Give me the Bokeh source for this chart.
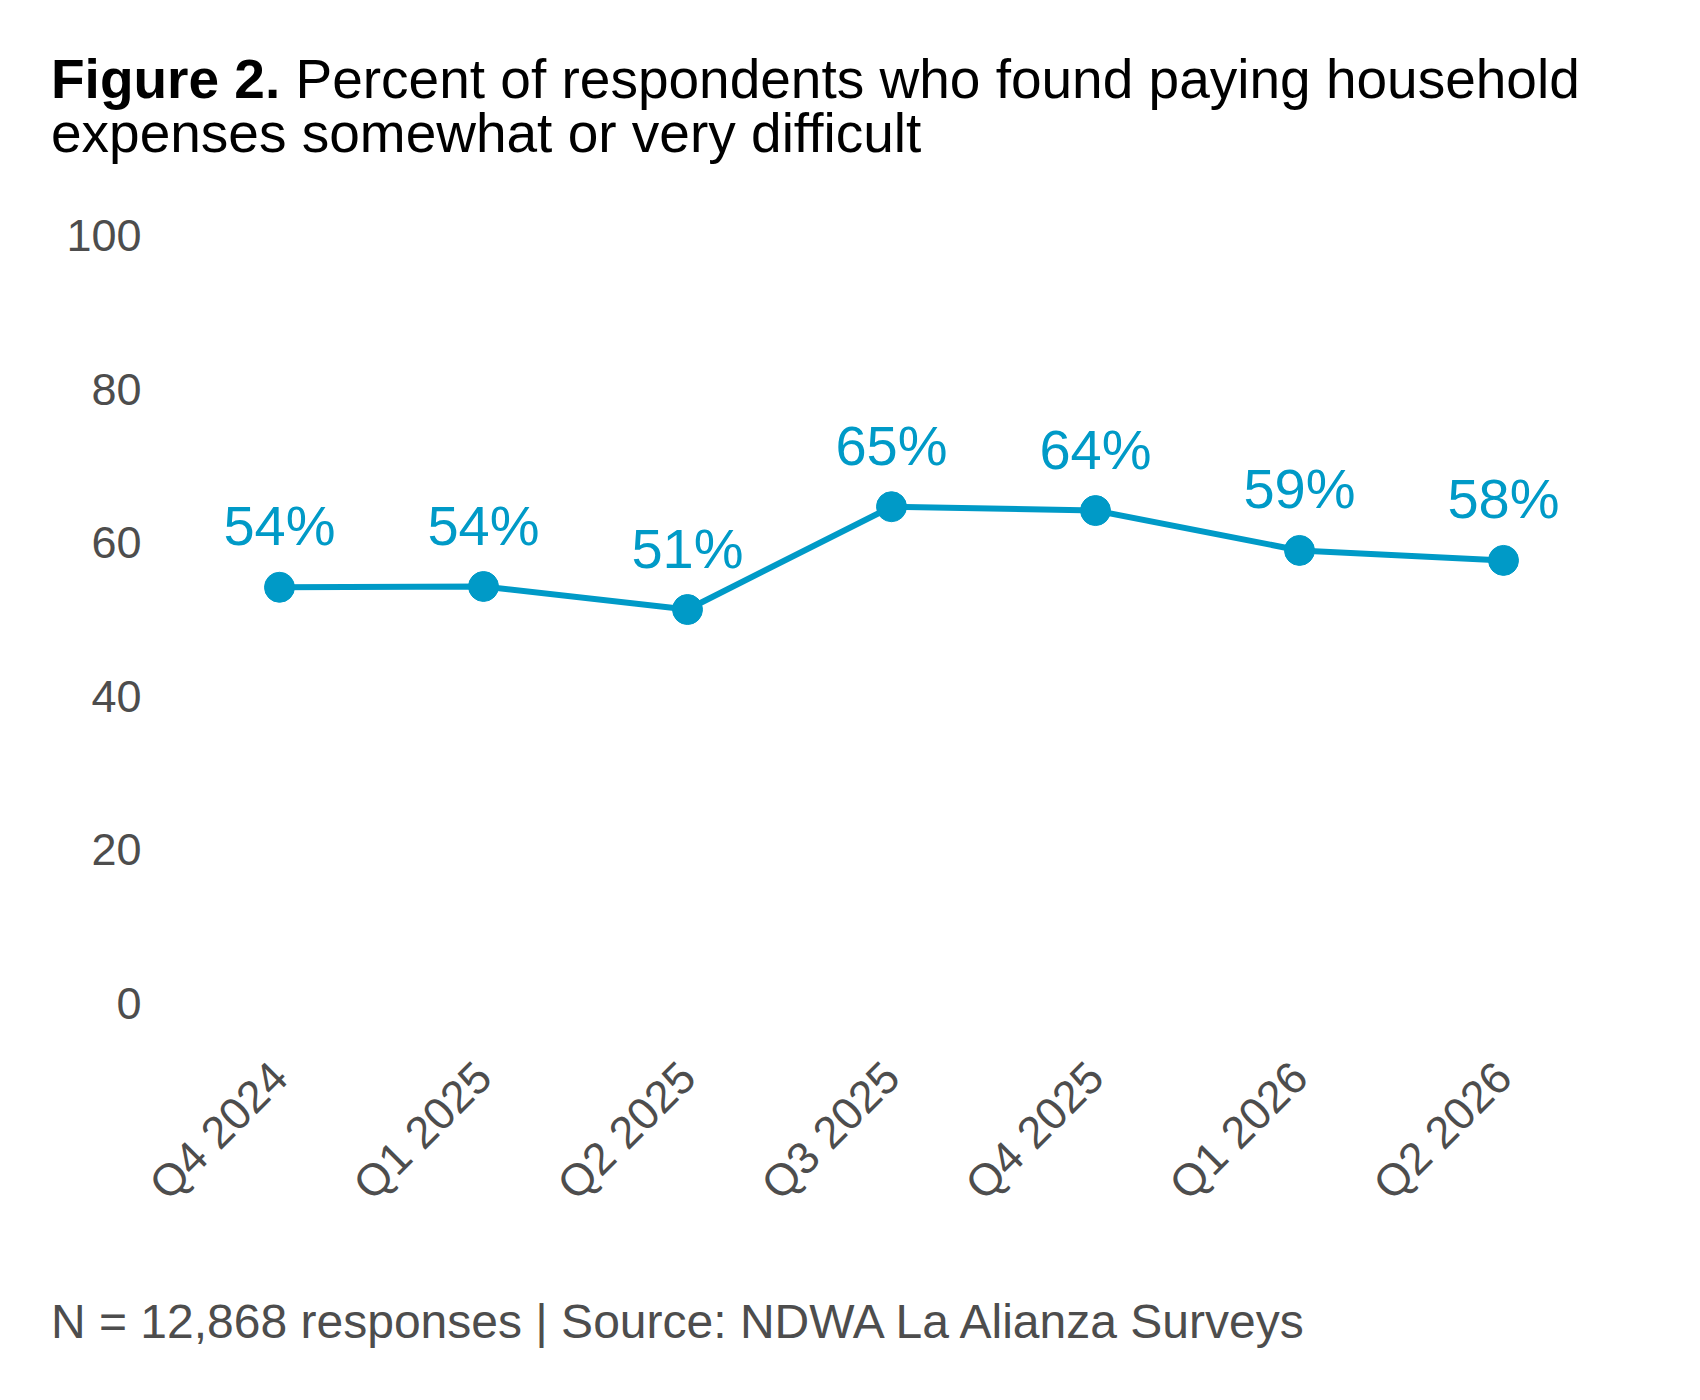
from bokeh.plotting import figure
from bokeh.models import Div, ColumnDataSource
from bokeh.layouts import column
from bokeh.embed import file_html
from bokeh.resources import INLINE
from bokeh.core.properties import value

quarters = ["Q4 2024", "Q1 2025", "Q2 2025", "Q3 2025", "Q4 2025", "Q1 2026", "Q2 2026"]
values = [54.2, 54.3, 51.3, 64.7, 64.2, 59.0, 57.7]
labels = ["54%", "54%", "51%", "65%", "64%", "59%", "58%"]
y_ticks = [0, 20, 40, 60, 80, 100]

FONT = "Liberation Sans"
BLUE = "#009AC7"
GREY = "#4d4d4d"

title = Div(text='<div style="font-family:\'Liberation Sans\';font-size:55px;line-height:54px;color:#000;white-space:nowrap">'
            '<b>Figure 2.</b> Percent of respondents who found paying household<br>expenses somewhat or very difficult</div>',
            width=1640, height=140, margin=(52, 0, 0, 51))

src = ColumnDataSource(dict(x=quarters, y=values, lab=labels))
p = figure(x_range=quarters, y_range=(-5, 105), width=1655, height=5 + 844 + 217,
           output_backend="svg", toolbar_location=None,
           min_border_left=177, min_border_top=5, min_border_bottom=217, min_border_right=50)
p.line("x", "y", source=src, line_color=BLUE, line_width=6)
p.scatter("x", "y", source=src, size=30, color=BLUE)
p.text("x", "y", text="lab", source=src, text_color=BLUE, text_font=value(FONT),
       text_font_size="56px", text_align="center", text_baseline="bottom", y_offset=-30)

p.xgrid.visible = False
p.ygrid.visible = False
p.outline_line_color = None
for ax in (p.xaxis, p.yaxis):
    ax.axis_line_color = None
    ax.major_tick_line_color = None
    ax.minor_tick_line_color = None
    ax.major_label_text_font = FONT
    ax.major_label_text_font_size = "45px"
    ax.major_label_text_color = GREY
p.yaxis.ticker = y_ticks
p.yaxis.major_label_standoff = 30
p.xaxis.major_label_orientation = 0.785
p.xaxis.major_label_standoff = 22

footer = Div(text='<div style="font-family:\'Liberation Sans\';font-size:48px;color:#4d4d4d;white-space:nowrap">'
             'N = 12,868 responses | Source: NDWA La Alianza Surveys</div>',
             width=1600, height=60, margin=(30, 0, 0, 51))

page = column(title, p, footer)
open("out.html", "w").write(file_html(page, INLINE))
